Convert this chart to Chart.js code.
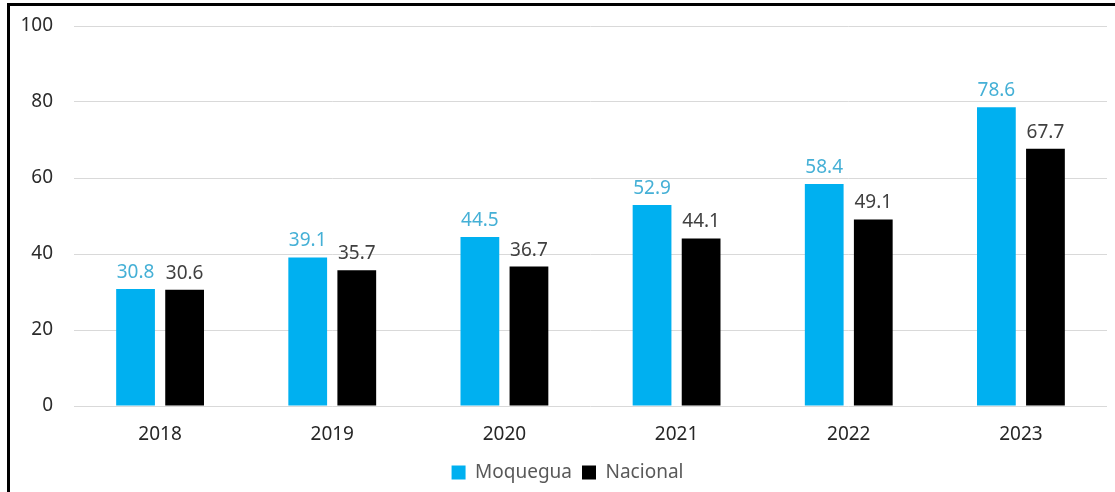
<!DOCTYPE html>
<html lang="es">
<head>
    <meta charset="utf-8">
    <script src="https://cdn.jsdelivr.net/npm/chart.js"></script>
    <style>
        html, body { margin: 0; padding: 0; background: #fff; }
        .frame {
            position: relative;
            width: 1115px;
            height: 492px;
            overflow: hidden;
        }
        .frame-line {
            position: absolute;
            left: 7px;
            top: 3px;
            width: 1200px;
            height: 600px;
            border-left: 3px solid #000;
            border-top: 3px solid #000;
            pointer-events: none;
        }
        canvas { display: block; }
    </style>
</head>
<body>
    <div class="frame">
        <canvas id="chart" width="1115" height="492"></canvas>
        <div class="frame-line"></div>
    </div>

    <script>
        const years = ['2018', '2019', '2020', '2021', '2022', '2023'];
        const moquegua = [30.8, 39.1, 44.5, 52.9, 58.4, 78.6];
        const nacional = [30.6, 35.7, 36.7, 44.1, 49.1, 67.7];
        const yTicks = [0, 20, 40, 60, 80, 100];

        const labelColors = ['#45B0D6', '#404040'];

        // value labels above each bar
        const valueLabels = {
            id: 'valueLabels',
            afterDatasetsDraw(chart) {
                const ctx = chart.ctx;
                ctx.save();
                ctx.font = '19px "Noto Sans", sans-serif';
                ctx.textAlign = 'center';
                ctx.textBaseline = 'alphabetic';
                chart.data.datasets.forEach((ds, i) => {
                    const meta = chart.getDatasetMeta(i);
                    ctx.fillStyle = labelColors[i];
                    meta.data.forEach((bar, j) => {
                        ctx.fillText(ds.data[j].toFixed(1), bar.x, bar.y - 11);
                    });
                });
                ctx.restore();
            }
        };

        // legend in the original sits a bit right of centre
        const legendShift = {
            id: 'legendShift',
            afterLayout(chart) {
                chart.legend.left += 14;
                chart.legend.right += 14;
            }
        };

        Chart.defaults.font.family = '"Noto Sans", sans-serif';

        new Chart(document.getElementById('chart'), {
            type: 'bar',
            data: {
                labels: years,
                datasets: [
                    { label: 'Moquegua', data: moquegua, backgroundColor: '#00B0F0' },
                    { label: 'Nacional', data: nacional, backgroundColor: '#000000' }
                ]
            },
            options: {
                responsive: false,
                animation: false,
                categoryPercentage: 0.57,
                barPercentage: 0.79,
                layout: { padding: { top: 26, right: 8, bottom: 0, left: 0 } },
                scales: {
                    x: {
                        grid: { display: false },
                        border: { display: false },
                        ticks: { color: '#262626', font: { size: 19 }, padding: 9 },
                        afterFit(axis) { axis.height = 47; }
                    },
                    y: {
                        min: 0,
                        max: 100,
                        afterBuildTicks(axis) { axis.ticks = yTicks.map(v => ({ value: v })); },
                        grid: { color: '#D9D9D9', drawTicks: false },
                        border: { display: false },
                        ticks: { color: '#2B2B2B', font: { size: 19 }, padding: 21 },
                        afterFit(axis) {
                            axis.width = 74;
                            axis.paddingTop = 10;
                            axis.paddingBottom = 10;
                        }
                    }
                },
                plugins: {
                    legend: {
                        position: 'bottom',
                        labels: {
                            color: '#595959',
                            font: { size: 19 },
                            boxWidth: 14,
                            boxHeight: 14,
                            padding: 10
                        }
                    },
                    tooltip: { enabled: false }
                }
            },
            plugins: [valueLabels, legendShift]
        });
    </script>
</body>
</html>
